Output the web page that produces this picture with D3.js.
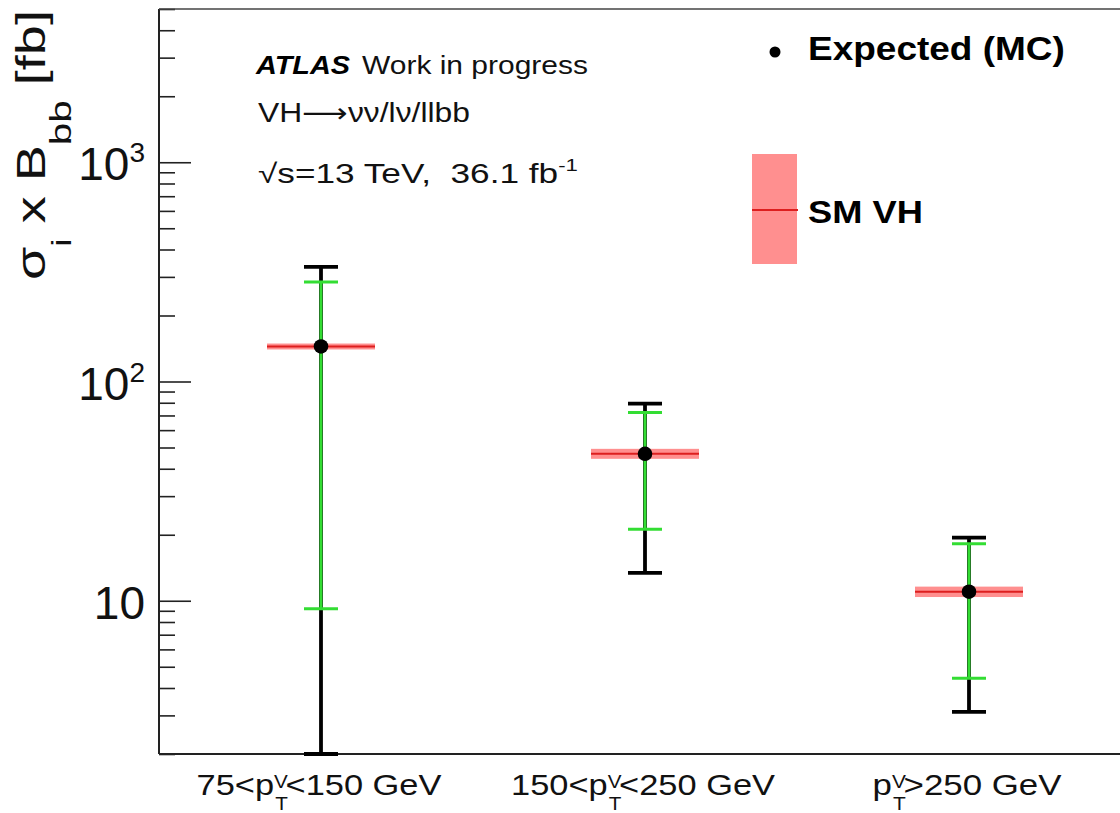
<!DOCTYPE html>
<html>
<head>
<meta charset="utf-8">
<script src="https://cdn.jsdelivr.net/npm/d3@7"></script>
<style>
  html, body { margin: 0; padding: 0; background: #fff; }
  svg { display: block; font-family: "Liberation Sans", Arial, Helvetica, sans-serif; }
</style>
</head>
<body>
<svg id="chart" width="1120" height="813"></svg>
<script>
  // --- data ---
  var categories = ["75-150", "150-250", "250+"];
  var labelPre  = ["75<p", "150<p", "p"];
  var labelPost = ["<150 GeV", "<250 GeV", ">250 GeV"];

  var expected = [144.5, 46.8, 11.0];   // black points
  var totLo    = [2.0, 13.4, 3.11];     // black (total) error bar
  var totHi    = [333, 79.3, 19.4];
  var statLo   = [9.2, 21.2, 4.43];     // green error bar
  var statHi   = [284, 72.3, 18.2];
  var smVal    = [144.5, 46.8, 11.0];   // SM VH prediction
  var smLo     = [140, 44.4, 10.4];
  var smHi     = [149, 49.3, 11.6];

  var majorTicks = [10, 100, 1000];
  var majorBase  = ["10", "10", "10"];
  var majorExp   = ["", "2", "3"];

(function () {
  // --- layout ---
  var left = 159, plotTop = 9, bottom = 754, right = 1131;
  var svg = d3.select("#chart");

  var x = d3.scaleBand().domain(categories).range([left, right]).padding(0);
  var y = d3.scaleLog().domain([2, 5000]).range([bottom, plotTop]);

  // scale text horizontally so it covers the width seen in the picture
  function fit(sel, tx, ty, targetW, rot) {
    var w = sel.node().getBBox().width;
    var s = targetW / w;
    sel.attr("transform", "translate(" + tx + "," + ty + ")" + (rot ? " rotate(" + rot + ")" : "") + " scale(" + s + ",1)");
    return sel;
  }

  // minor ticks
  var minor = [];
  [1, 10, 100, 1000].forEach(function (d) {
    for (var k = 2; k <= 9; k++) {
      var v = d * k;
      if (v >= 2 && v <= 5000 && majorTicks.indexOf(v) < 0) minor.push(v);
    }
  });

  svg.append("g")
    .attr("transform", "translate(" + left + ",0)")
    .call(d3.axisRight(y).tickValues(minor).tickSize(16).tickSizeOuter(0).tickFormat(""))
    .call(function (g) { g.select(".domain").remove(); })
    .selectAll("line").attr("stroke", "#222").attr("stroke-width", 1.6);

  svg.append("g")
    .attr("transform", "translate(" + left + ",0)")
    .call(d3.axisRight(y).tickValues(majorTicks).tickSize(32).tickSizeOuter(0).tickFormat(""))
    .call(function (g) { g.select(".domain").remove(); })
    .selectAll("line").attr("stroke", "#222").attr("stroke-width", 1.6);

  // frame
  svg.append("line").attr("x1", left).attr("x2", left).attr("y1", plotTop).attr("y2", bottom)
    .attr("stroke", "#222").attr("stroke-width", 2);
  svg.append("line").attr("x1", left).attr("x2", 1120).attr("y1", bottom).attr("y2", bottom)
    .attr("stroke", "#222").attr("stroke-width", 2);
  svg.append("line").attr("x1", left).attr("x2", 1120).attr("y1", plotTop).attr("y2", plotTop)
    .attr("stroke", "#444").attr("stroke-width", 1.6);

  // y tick labels
  majorTicks.forEach(function (v, i) {
    var t = svg.append("text")
      .attr("x", 145).attr("y", y(v) + 18)
      .attr("text-anchor", "end")
      .attr("font-size", 46)
      .attr("fill", "#111");
    t.append("tspan").text(majorBase[i]);
    if (majorExp[i]) {
      t.append("tspan").attr("font-size", 28).attr("dy", -18).text(majorExp[i]);
    }
  });

  // y title
  var yt = svg.append("text").attr("font-size", 40).attr("fill", "#111");
  yt.append("tspan").text("σ");
  yt.append("tspan").attr("font-size", 28).attr("dy", 26).text("i");
  yt.append("tspan").attr("dy", -26).text(" x B");
  yt.append("tspan").attr("font-size", 30).attr("dy", 26).text("bb");
  yt.append("tspan").attr("dy", -26).text("  [fb]");
  fit(yt, 45, 280, 270, -90);

  // x labels
  var xw = [245, 264, 189];
  categories.forEach(function (c, i) {
    var t = svg.append("text")
      .attr("text-anchor", "middle")
      .attr("font-size", 30)
      .attr("fill", "#111");
    t.append("tspan").text(labelPre[i]);
    t.append("tspan").attr("font-size", 18).attr("dy", -7).text("V");
    t.append("tspan").attr("font-size", 18).attr("dx", -11).attr("dy", 22).text("T");
    t.append("tspan").attr("dy", -15).attr("dx", -2).text(labelPost[i]);
    fit(t, x(c) + x.bandwidth() / 2 - 2, 795, xw[i]);
  });

  var cx = function (i) { return x(categories[i]) + x.bandwidth() / 2; };
  var idx = d3.range(categories.length);

  // SM VH bands
  var sm = svg.append("g");
  sm.selectAll("rect").data(idx).enter().append("rect")
    .attr("x", function (i) { return cx(i) - 54; })
    .attr("width", 108)
    .attr("y", function (i) { return y(smHi[i]); })
    .attr("height", function (i) { return y(smLo[i]) - y(smHi[i]); })
    .attr("fill", "#ff8f8f");
  sm.selectAll("line").data(idx).enter().append("line")
    .attr("x1", function (i) { return cx(i) - 54; })
    .attr("x2", function (i) { return cx(i) + 54; })
    .attr("y1", function (i) { return y(smVal[i]); })
    .attr("y2", function (i) { return y(smVal[i]); })
    .attr("stroke", "#dd1f1f").attr("stroke-width", 2);

  // error bars
  function errorBars(lo, hi, color, w) {
    var g = svg.append("g").attr("stroke", color).attr("stroke-width", w);
    g.selectAll(".v").data(idx).enter().append("line")
      .attr("x1", cx).attr("x2", cx)
      .attr("y1", function (i) { return y(lo[i]); })
      .attr("y2", function (i) { return y(hi[i]); });
    [lo, hi].forEach(function (arr) {
      g.selectAll(null).data(idx).enter().append("line")
        .attr("x1", function (i) { return cx(i) - 17; })
        .attr("x2", function (i) { return cx(i) + 17; })
        .attr("y1", function (i) { return y(arr[i]); })
        .attr("y2", function (i) { return y(arr[i]); });
    });
  }
  errorBars(totLo, totHi, "#000", 3.8);
  errorBars(statLo, statHi, "#33dd33", 3);

  // expected points
  svg.append("g").selectAll("circle").data(idx).enter().append("circle")
    .attr("cx", cx)
    .attr("cy", function (i) { return y(expected[i]); })
    .attr("r", 7.3)
    .attr("fill", "#000");

  // ATLAS label block
  fit(svg.append("text").attr("font-size", 26).attr("font-weight", "bold").attr("font-style", "italic")
    .attr("fill", "#000").text("ATLAS"), 256, 74, 96);
  fit(svg.append("text").attr("font-size", 26).attr("fill", "#111").text("Work in progress"), 362, 74, 226);
  var decay = svg.append("text").attr("font-size", 27).attr("fill", "#111");
  decay.append("tspan").text("VH");
  decay.append("tspan").attr("font-family", "DejaVu Sans").text("⟶");
  decay.append("tspan").text("νν/lν/llbb");
  fit(decay, 258, 122, 212);
  var lumi = svg.append("text").attr("font-size", 27).attr("fill", "#111");
  lumi.append("tspan").text("√s=13 TeV,  36.1 fb");
  lumi.append("tspan").attr("font-size", 17).attr("dy", -12).text("-1");
  lumi.attr("xml:space", "preserve").style("white-space", "pre");
  fit(lumi, 258, 183, 320);

  // legend
  svg.append("circle").attr("cx", 775).attr("cy", 52).attr("r", 5.5).attr("fill", "#000");
  fit(svg.append("text").attr("font-size", 34).attr("font-weight", "bold").attr("fill", "#000")
    .text("Expected (MC)"), 808, 60, 257);
  svg.append("rect").attr("x", 752).attr("y", 154).attr("width", 45).attr("height", 110).attr("fill", "#ff8f8f");
  svg.append("line").attr("x1", 752).attr("x2", 798).attr("y1", 210).attr("y2", 210)
    .attr("stroke", "#dd1f1f").attr("stroke-width", 2);
  fit(svg.append("text").attr("font-size", 32).attr("font-weight", "bold").attr("fill", "#000")
    .text("SM VH"), 808, 223, 115);
})();
</script>
</body>
</html>
